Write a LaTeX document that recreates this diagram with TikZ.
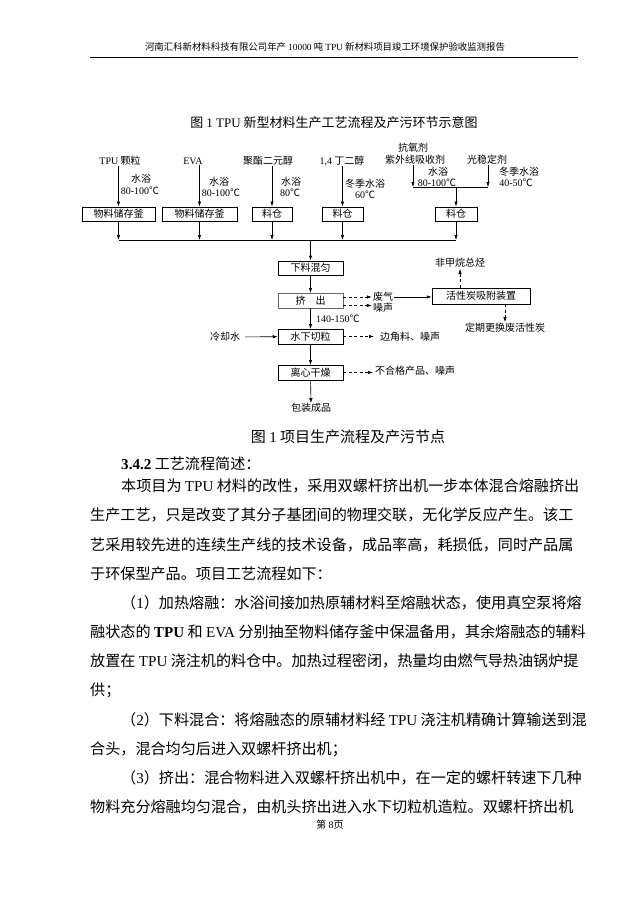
\documentclass[tikz,border=0pt]{standalone}
\usepackage{fontspec}
\setmainfont{Liberation Serif}
\newfontfamily\cjk{Noto Sans CJK SC}
\usepackage{tikz}
\usetikzlibrary{arrows.meta,positioning,calc}
\newcommand\latn[1]{{\rmfamily #1}}

\begin{document}
\begin{tikzpicture}[x=1pt,y=-1pt,>={Latex[length=5pt,width=3.4pt]},
proc/.style={draw,line width=0.5pt,minimum height=14.5pt,inner sep=0pt,font=\cjk\fontsize{10}{12}\selectfont},
note/.style={inner sep=0pt,font=\cjk\fontsize{10}{12}\selectfont},
body/.style={anchor=west,inner sep=0pt,font=\cjk\fontsize{15.1}{18}\selectfont},
flow/.style={->,line width=0.6pt},
emit/.style={->,line width=0.6pt,dash pattern=on 3pt off 2.5pt}]
\useasboundingbox[fill=white] (0,0) rectangle (636,900);
% page head
\node[note,font=\cjk\fontsize{9.4}{11}\selectfont] (head) at (325,47) {河南汇科新材料科技有限公司年产 \latn{10000} 吨 \latn{TPU} 新材料项目竣工环境保护验收监测报告};
\draw[line width=0.8pt] (90,57.5) -- (578,57.5);
\node[note,font=\cjk\fontsize{13}{15}\selectfont] (title) at (334,123) {图 \latn{1 TPU} 新型材料生产工艺流程及产污环节示意图};
% raw materials
\node[note] (tpu) at (120,161) {\latn{TPU} 颗粒};
\node[note] (eva) at (193,161) {\latn{EVA}};
\node[note] (pol) at (268,161) {聚酯二元醇};
\node[note] (bdo) at (342,161) {\latn{1,4} 丁二醇};
\node[note] (aox) at (413,148) {抗氧剂};
\node[note] (uva) at (415,160) {紫外线吸收剂};
\node[note] (hals) at (487,160) {光稳定剂};
% heating notes
\node[note] (bath1) at (141,179) {水浴};
\node[note] (heat1) at (140,191) {\latn{80-100}℃};
\node[note] (bath2) at (219,182) {水浴};
\node[note] (heat2) at (221,193) {\latn{80-100}℃};
\node[note] (bath3) at (291,182) {水浴};
\node[note] (heat3) at (290,193) {\latn{80}℃};
\node[note] (bath4) at (365,184) {冬季水浴};
\node[note] (heat4) at (365,195) {\latn{60}℃};
\node[note] (bath5) at (438,171.5) {水浴};
\node[note] (heat5) at (437,182.5) {\latn{80-100}℃};
\node[note] (bath6) at (519,171.5) {冬季水浴};
\node[note] (heat6) at (516,182.5) {\latn{40-50}℃};
% storage
\node[proc,minimum width=73pt] (tank1) at (118.5,214) {物料储存釜};
\node[proc,minimum width=75pt] (tank2) at (199.5,214) {物料储存釜};
\node[proc,minimum width=40pt] (bin1) at (272,214) {料仓};
\node[proc,minimum width=41pt] (bin2) at (342.5,214) {料仓};
\node[proc,minimum width=42pt] (bin3) at (456,214) {料仓};
% main line
\node[proc,minimum width=65pt] (mix) at (310.5,268) {下料混匀};
\node[proc,minimum width=65pt,draw=black!60] (ext) at (310.5,300.5) {挤\quad 出};
\node[proc,minimum width=65pt] (cut) at (310.5,336.5) {水下切粒};
\node[proc,minimum width=65pt] (dry) at (310.5,372.5) {离心干燥};
\node[note] (pack) at (311,408) {包装成品};
\node[note,anchor=west] (temp) at (316,319) {\latn{140-150}℃};
% emissions
\node[note] (gas) at (383,297) {废气};
\node[note] (noise) at (383,307.5) {噪声};
\node[proc,minimum width=98pt,minimum height=16pt] (carbon) at (481,296) {活性炭吸附装置};
\node[note] (nmhc) at (460,263) {非甲烷总烃};
\node[note] (spent) at (505,328) {定期更换废活性炭};
\node[note] (water) at (225,337) {冷却水};
\node[note,anchor=west] (scrap) at (380,337) {边角料、噪声};
\node[note,anchor=west] (reject) at (375,371) {不合格产品、噪声};
\coordinate (bus) at (310.5,240);
\coordinate (join) at (456,187);
\draw[flow] (tpu.south -| tank1) -- (tank1);
\draw[flow] (eva.south -| tank2) -- (tank2);
\draw[flow] (pol.south -| bin1) -- (bin1);
\draw[flow] (bdo.south -| bin2) -- (bin2);
\draw[flow] (uva.south -| 413,0) -- (join -| 413,0);
\draw[flow] (hals.south -| 488,0) -- (join -| 488,0);
\draw[line width=0.6pt] (join -| 413,0) -- (join -| 488,0);
\draw[flow] (join) -- (bin3);
\foreach \s in {tank1,tank2,bin1,bin2,bin3}
  \draw[flow] (\s) -- (\s |- bus);
\draw[line width=0.6pt] (tank1 |- bus) -- (bin3 |- bus);
\draw[flow] (bus) -- (mix);
\draw[flow] (mix) -- (ext);
\draw[flow] (ext) -- (cut);
\draw[flow] (cut) -- (dry);
\draw[flow] (dry) -- (pack);
\draw[emit,shorten >=1pt] ([yshift=3.5pt]ext.east) -- ([yshift=3.5pt]ext.east -| gas.west);
\draw[emit,shorten >=1pt] ([yshift=-5pt]ext.east) -- ([yshift=-5pt]ext.east -| noise.west);
\draw[flow,shorten <=1pt] (gas) -- (gas -| carbon.west);
\draw[emit,shorten >=1pt] (carbon.north -| nmhc) -- (nmhc);
\draw[emit,shorten >=1pt] (carbon.south -| spent) -- (spent);
\draw[flow,shorten <=5pt] (water) -- (cut);
\draw[emit,shorten >=6pt] (cut) -- (cut -| scrap.west);
\draw[emit,shorten >=2pt] (dry) -- (dry -| reject.west);
\node[note,font=\cjk\fontsize{15}{18}\selectfont] (cap) at (348,437) {图 \latn{1} 项目生产流程及产污节点};
% text of the page
\node[body] (sec) at (121,464) {\latn{\bfseries 3.4.2} 工艺流程简述：};
\node[body] (p1) at (121,486) {本项目为 \latn{TPU} 材料的改性，采用双螺杆挤出机一步本体混合熔融挤出};
\node[body] (p2) at (90,515) {生产工艺，只是改变了其分子基团间的物理交联，无化学反应产生。该工};
\node[body] (p3) at (90,545) {艺采用较先进的连续生产线的技术设备，成品率高，耗损低，同时产品属};
\node[body] (p4) at (90,574) {于环保型产品。项目工艺流程如下：};
\node[body] (p5) at (121,603) {（\latn{1}）加热熔融：水浴间接加热原辅材料至熔融状态，使用真空泵将熔};
\node[body] (p6) at (90,632) {融状态的 \latn{\bfseries TPU} 和 \latn{EVA} 分别抽至物料储存釜中保温备用，其余熔融态的辅料};
\node[body] (p7) at (90,661) {放置在 \latn{TPU} 浇注机的料仓中。加热过程密闭，热量均由燃气导热油锅炉提};
\node[body] (p8) at (90,690) {供；};
\node[body] (p9) at (121,720) {（\latn{2}）下料混合：将熔融态的原辅材料经 \latn{TPU} 浇注机精确计算输送到混};
\node[body] (p10) at (90,749) {合头，混合均匀后进入双螺杆挤出机；};
\node[body] (p11) at (121,778) {（\latn{3}）挤出：混合物料进入双螺杆挤出机中，在一定的螺杆转速下几种};
\node[body] (p12) at (90,807) {物料充分熔融均匀混合，由机头挤出进入水下切粒机造粒。双螺杆挤出机};
\node[note,font=\cjk\fontsize{10}{12}\selectfont] (pageno) at (330,825) {第 \latn{8}页};
\end{tikzpicture}
\end{document}
